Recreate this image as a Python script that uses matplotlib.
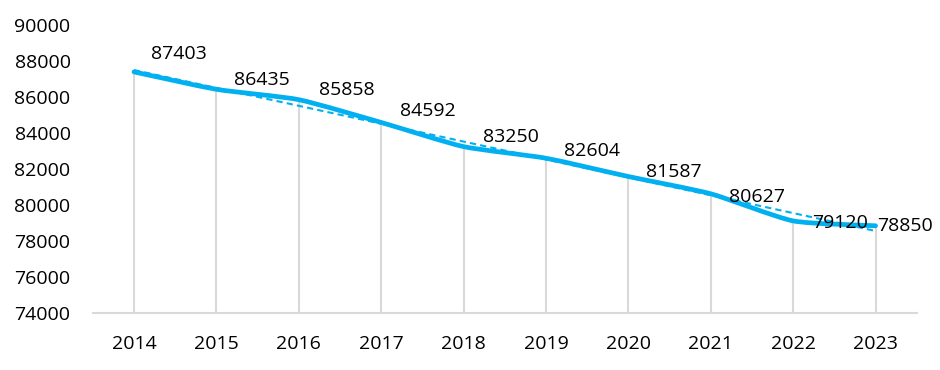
import numpy as np
import matplotlib.pyplot as plt
from matplotlib.path import Path
from matplotlib.patches import PathPatch

plt.rcParams['font.family'] = ['Open Sans', 'DejaVu Sans']

# data
years = ['2014', '2015', '2016', '2017', '2018', '2019', '2020', '2021', '2022', '2023']
values = [87403, 86435, 85858, 84592, 83250, 82604, 81587, 80627, 79120, 78850]
y_ticks = [74000, 76000, 78000, 80000, 82000, 84000, 86000, 88000, 90000]

# label offsets (pixels) as placed in the original chart
label_dx = [45, 45, 48, 47, 47, 46, 45, 46, 47, 29]
label_dy = [18, 9, 10, 11, 10, 7, 5, -3, -2, 0]

BLUE = '#00B0F0'
GREY = '#D9D9D9'

fig = plt.figure(figsize=(9.4, 3.7), dpi=100)
ax = fig.add_axes([0.0987, 0.154, 0.8766, 0.778])

x = np.arange(len(years))
y = np.array(values, dtype=float)

# drop lines
ax.vlines(x, y_ticks[0], y, color=GREY, lw=1.5, zorder=1)

# linear trendline
k, b = np.polyfit(x, y, 1)
ax.plot(x, k * x + b, color=BLUE, lw=1.5, ls=(0, (3, 2)), zorder=2)

# smoothed line (light bezier smoothing like excel)
pts = np.column_stack([x, y])
verts = [pts[0]]
codes = [Path.MOVETO]
t = 1 / 10
for i in range(len(pts) - 1):
    p0 = pts[max(i - 1, 0)]
    p1 = pts[i]
    p2 = pts[i + 1]
    p3 = pts[min(i + 2, len(pts) - 1)]
    c1 = p1 + (p2 - p0) * t
    c2 = p2 - (p3 - p1) * t
    verts += [c1, c2, p2]
    codes += [Path.CURVE4] * 3
ax.add_patch(PathPatch(Path(verts, codes), fill=False, edgecolor=BLUE, lw=3.4,
                       capstyle='round', joinstyle='round', zorder=3))

for xi, yi, dx, dy in zip(x, values, label_dx, label_dy):
    ax.annotate(str(yi), (xi, yi), xytext=(dx, dy), textcoords='offset pixels',
                ha='center', va='center', fontsize=14, color='black', zorder=4)

ax.set_xlim(-0.5, len(years) - 0.5)
ax.set_ylim(y_ticks[0], y_ticks[-1])
ax.set_xticks(x)
ax.set_xticklabels(years)
ax.set_yticks(y_ticks)
ax.tick_params(axis='both', length=0, labelsize=14, colors='black')
ax.tick_params(axis='y', pad=16)
ax.tick_params(axis='x', pad=16)

for s in ['top', 'right', 'left']:
    ax.spines[s].set_visible(False)
ax.spines['bottom'].set_color(GREY)
ax.spines['bottom'].set_linewidth(1.5)

fig.savefig('out.png', dpi=100)
